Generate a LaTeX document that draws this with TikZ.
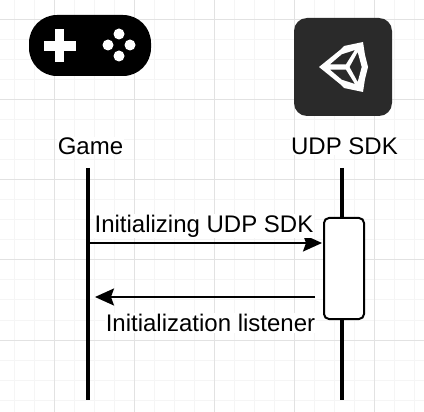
\documentclass[tikz,border=0pt]{standalone}
\usepackage{fontspec}
\setmainfont{Liberation Sans}
\usetikzlibrary{positioning}
\usetikzlibrary{arrows.meta}
\definecolor{gridmajor}{HTML}{E2E2E2}
\definecolor{gridminor}{HTML}{F5F5F5}
\definecolor{unitygrey}{HTML}{2A2A2A}
\tikzset{label node/.style={fill=white,inner sep=1pt,font=\fontsize{24}{28}\selectfont},
  life line/.style={line width=4pt},
  msg line/.style={line width=2pt,-{Stealth[length=19pt,width=17pt,inset=3pt]}},
  act node/.style={draw,fill=white,line width=2pt,rounded corners=5pt,minimum width=40pt,minimum height=101pt,inner sep=0pt},}

\begin{document}
\begin{tikzpicture}[x=1pt,y=-1pt]
      \useasboundingbox (0,0) rectangle (424,412);

      % grid
      \foreach \x in {14.7,34.7,...,414.7} \draw[gridminor,line width=1pt] (\x,0) -- (\x,412);
      \foreach \y in {0,20,...,400} \draw[gridminor,line width=1pt] (0,\y) -- (424,\y);
      \foreach \x in {54.7,134.7,214.7,294.7,374.7} \draw[gridmajor,line width=1pt] (\x,0) -- (\x,412);
      \foreach \y in {20,100,180,260,340} \draw[gridmajor,line width=1pt] (0,\y) -- (424,\y);

      % game icon
      \fill[black,rounded corners=28pt] (29,15) rectangle (151,76);
      \fill[white] (44,41) rectangle (76,51);
      \fill[white] (55,29) rectangle (64,62);
      \foreach \cx/\cy in {119/34,108/45,130/45,119/56} \fill[white] (\cx,\cy) circle (5.5pt);

      % unity icon
      \fill[unitygrey,rounded corners=13pt] (294,18) rectangle (392,116);
      \fill[white,even odd rule] (319,67) -- (340,50) -- (344,46) -- (363,42) -- (365,55) -- (368,67) -- (365,79) -- (363,92) -- (344,88) -- (340,84) -- cycle
        (330,64.3) -- (346,64.3) -- (355,50) -- (341.7,54.3) -- cycle
        (330,69.7) -- (346,69.7) -- (355,84) -- (341.7,79.7) -- cycle
        (349.5,67) -- (357.7,52) -- (361.7,67) -- (357.7,82) -- cycle;

      \node[label node] (game) at (90.5,146) {Game};
      \node[label node] (udp) at (344.5,146) {UDP SDK};

      \coordinate (gametop) at (88,168);
      \coordinate (gamebot) at (88,400);
      \coordinate (udptop) at (342,168);
      \coordinate (udpbot) at (342,400);
      \draw[life line] (gametop) -- (gamebot);
      \draw[life line] (udptop) -- (udpbot);

      \node[act node] (act) at (344,268.5) {};

      \coordinate (callstart) at (88,243);
      \coordinate (callend) at (322,243);
      \coordinate (backstart) at (315,297);
      \coordinate (backend) at (95,297);
      \draw[msg line] (callstart) -- (callend);
      \draw[msg line] (backstart) -- (backend);

      \node[label node] (calltext) at (204,226) {Initializing UDP SDK};
      \node[label node] (backtext) at (210.5,323) {Initialization listener};

    \end{tikzpicture}
\end{document}
